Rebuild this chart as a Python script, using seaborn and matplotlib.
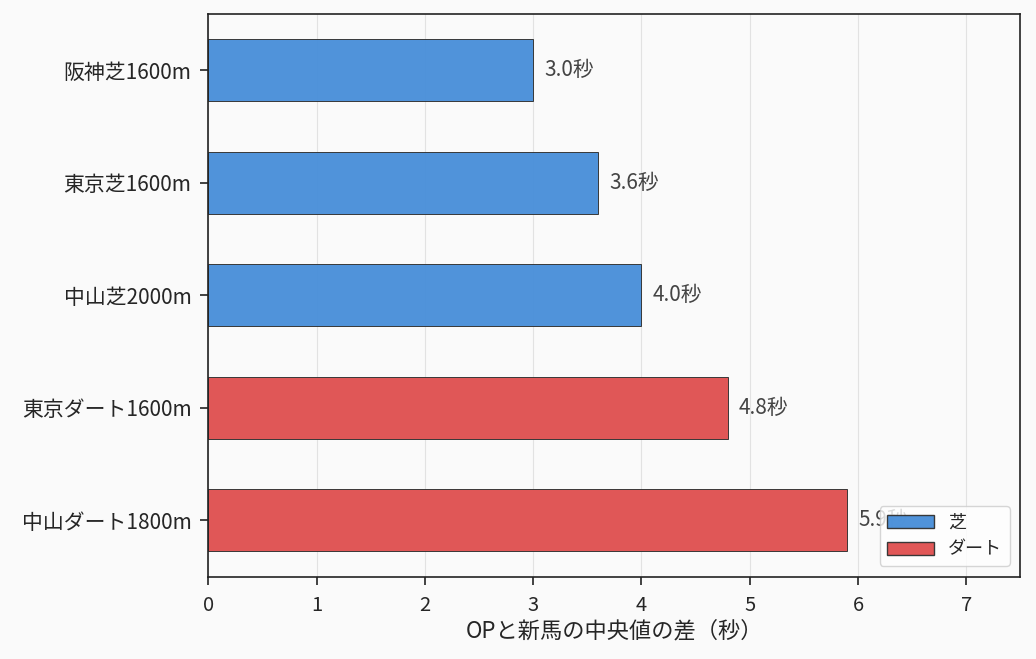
import matplotlib
matplotlib.use("Agg")
import matplotlib.pyplot as plt
import pandas as pd
import seaborn as sns

# データ
courses = ["阪神芝1600m", "東京芝1600m", "中山芝2000m", "東京ダート1600m", "中山ダート1800m"]
diffs = [3.0, 3.6, 4.0, 4.8, 5.9]
surfaces = ["芝", "芝", "芝", "ダート", "ダート"]
palette = {"芝": "#4a90d9", "ダート": "#e05252"}

df = pd.DataFrame({"course": courses, "diff": diffs, "surface": surfaces})

sns.set_theme(style="whitegrid")
plt.rcParams["font.family"] = ["Noto Sans CJK JP", "DejaVu Sans"]

fig, ax = plt.subplots(figsize=(10.36, 6.59), dpi=100)
fig.patch.set_facecolor("#fafafa")
ax.set_facecolor("#fafafa")

sns.barplot(
    data=df, y="course", x="diff", hue="surface", palette=palette,
    dodge=False, width=0.55, edgecolor="#333333", linewidth=0.7,
    alpha=0.97, ax=ax, orient="h", saturation=1,
)

# 値ラベル
for i, v in enumerate(diffs):
    ax.text(v + 0.1, i, f"{v:.1f}秒", va="center", ha="left", fontsize=15, color="#444444")

ax.set_xlim(0, 7.5)
ax.set_ylim(4.5, -0.5)
ax.set_xlabel("OPと新馬の中央値の差（秒）", fontsize=16, labelpad=3)
ax.set_ylabel("")
ax.tick_params(axis="both", labelsize=14.5, length=6, width=1.2, color="#222222",
               left=True, bottom=True)
ax.tick_params(axis="x", pad=7)
ax.tick_params(axis="y", pad=6, labelsize=15)
ax.grid(axis="x", color="#dddddd", linewidth=0.8, alpha=0.8)
ax.grid(axis="y", visible=False)
ax.set_axisbelow(True)
for s in ax.spines.values():
    s.set_color("#222222")
    s.set_linewidth(1.2)

leg = ax.legend(loc="lower right", fontsize=13, frameon=True, title=None,
                handlelength=2.6, borderaxespad=0.6)
for h in leg.legend_handles:
    h.set_edgecolor("#333333")
    h.set_linewidth(1.0)

fig.subplots_adjust(left=0.201, right=0.985, top=0.979, bottom=0.125)
fig.savefig("out.png", dpi=100, facecolor=fig.get_facecolor())
plt.close(fig)
